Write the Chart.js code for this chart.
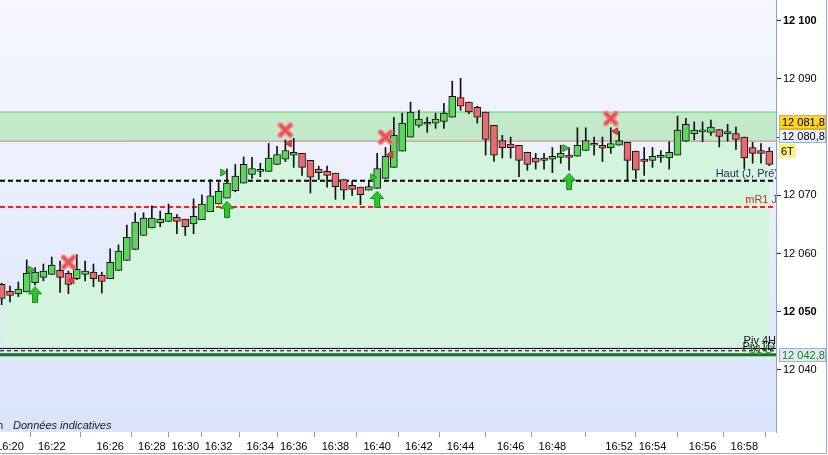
<html lang="fr">

<head>
    <meta charset="UTF-8">
    <title>Bougies 6T</title>
    <script src="https://cdn.jsdelivr.net/npm/chart.js@4.4.1/dist/chart.umd.min.js"></script>
    <style>
        body { margin: 0; background: #fff; }
    </style>
</head>

<body>
    <canvas id="myChart" width="828" height="455"></canvas>
</body>

</html>

<script>
    // Donnees des bougies (6 ticks)
    var opens = [
        12054.7, 12053.5, 12053.1, 12053.4, 12055.0, 12055.9, 12056.4, 12057.1, 12056.6, 12055.7,
        12056.4, 12056.8, 12056.3, 12055.7, 12057.1, 12058.8, 12060.7, 12063.1, 12064.4, 12065.3,
        12065.5, 12066.2, 12065.9, 12065.1, 12065.8, 12067.2, 12068.5, 12069.5, 12070.8, 12072.1,
        12073.6, 12074.1, 12074.1, 12075.3, 12076.2, 12076.9, 12077.2, 12076.0, 12074.5, 12074.1,
        12073.8, 12072.7, 12071.7, 12071.4, 12070.9, 12071.2, 12072.9, 12074.8, 12077.6, 12080.0,
        12082.0, 12082.5, 12082.4, 12082.7, 12083.4, 12086.8, 12086.0, 12085.1, 12084.3, 12082.0,
        12079.4, 12078.8, 12078.6, 12077.4, 12076.4, 12076.0, 12076.2, 12076.5, 12076.9, 12076.7,
        12077.7, 12078.6, 12078.6, 12078.2, 12078.6, 12079.1, 12077.6, 12076.2, 12076.0, 12076.5,
        12076.4, 12076.9, 12079.3, 12080.6, 12080.9, 12080.8, 12081.3, 12080.6, 12080.6, 12080.0,
        12078.2, 12077.7, 12077.6
    ];
    var highs = [
        12054.9, 12054.4, 12055.1, 12058.9, 12057.6, 12058.2, 12059.4, 12058.7, 12057.0, 12059.8,
        12058.7, 12058.2, 12056.8, 12060.8, 12061.5, 12064.9, 12067.0, 12067.0, 12068.2, 12067.3,
        12068.5, 12066.7, 12065.9, 12069.4, 12070.1, 12072.7, 12072.2, 12074.5, 12075.3, 12076.6,
        12076.5, 12075.5, 12078.9, 12078.4, 12079.5, 12079.8, 12077.2, 12076.0, 12075.0, 12075.0,
        12073.8, 12072.7, 12072.4, 12071.4, 12072.4, 12077.2, 12078.2, 12083.4, 12084.1, 12086.0,
        12084.6, 12083.4, 12084.1, 12085.8, 12089.6, 12090.1, 12086.0, 12085.3, 12084.3, 12082.0,
        12080.3, 12080.0, 12078.6, 12077.4, 12077.2, 12077.2, 12078.2, 12078.6, 12078.2, 12081.6,
        12081.6, 12080.0, 12080.0, 12081.6, 12081.0, 12079.1, 12077.6, 12078.2, 12078.2, 12077.7,
        12079.2, 12083.6, 12083.2, 12082.6, 12082.6, 12082.9, 12081.3, 12082.2, 12081.7, 12080.0,
        12079.1, 12078.9, 12078.2
    ];
    var lows = [
        12051.2, 12051.7, 12052.6, 12053.4, 12054.6, 12055.3, 12056.4, 12053.3, 12053.1, 12055.5,
        12055.3, 12054.3, 12053.2, 12055.7, 12057.1, 12058.8, 12060.7, 12063.1, 12064.4, 12064.6,
        12065.5, 12063.4, 12063.1, 12063.4, 12065.8, 12067.2, 12068.5, 12069.5, 12070.6, 12072.1,
        12072.9, 12073.2, 12074.1, 12075.3, 12075.8, 12074.8, 12073.4, 12070.4, 12072.7, 12071.4,
        12069.3, 12069.3, 12070.0, 12068.4, 12070.9, 12071.2, 12072.9, 12074.8, 12077.6, 12080.0,
        12081.7, 12080.8, 12081.5, 12081.5, 12083.4, 12084.6, 12084.0, 12082.4, 12076.9, 12075.8,
        12076.4, 12076.4, 12073.2, 12074.3, 12074.5, 12074.5, 12073.9, 12075.5, 12074.3, 12076.7,
        12077.7, 12076.9, 12075.8, 12077.2, 12078.6, 12072.7, 12072.9, 12073.4, 12074.8, 12075.7,
        12074.5, 12076.9, 12079.2, 12079.5, 12079.2, 12080.3, 12078.3, 12079.3, 12077.9, 12074.6,
        12075.5, 12075.5, 12075.1
    ];
    var closes = [
        12052.3, 12052.8, 12053.9, 12056.6, 12056.8, 12057.0, 12058.0, 12055.9, 12054.7, 12057.3,
        12057.0, 12055.7, 12055.2, 12058.5, 12060.4, 12062.8, 12065.4, 12066.1, 12066.1, 12065.9,
        12066.9, 12065.5, 12064.6, 12066.4, 12068.5, 12069.9, 12070.7, 12072.1, 12073.3, 12075.3,
        12074.6, 12074.1, 12076.4, 12077.0, 12077.7, 12077.4, 12074.8, 12073.1, 12073.9, 12073.4,
        12071.5, 12070.9, 12071.0, 12070.1, 12071.5, 12074.6, 12076.7, 12080.3, 12082.4, 12084.3,
        12083.1, 12082.2, 12083.1, 12084.1, 12087.0, 12085.3, 12084.3, 12083.4, 12079.6, 12076.9,
        12078.2, 12078.2, 12076.0, 12075.3, 12075.7, 12076.4, 12076.7, 12077.2, 12076.5, 12078.6,
        12079.4, 12078.6, 12078.1, 12078.9, 12079.4, 12076.0, 12074.3, 12075.8, 12076.7, 12076.5,
        12077.4, 12081.2, 12082.2, 12081.2, 12080.9, 12081.7, 12080.1, 12080.6, 12079.6, 12076.4,
        12077.2, 12077.2, 12075.3
    ];

    // Axe des temps (indices de bougie -> heure)
    var timeTickIdx = [1, 6, 13, 18, 22, 26, 31, 35, 40, 45, 50, 55, 61, 66, 74, 78, 84, 89];
    var timeTickLbl = ['16:20', '16:22', '16:26', '16:28', '16:30', '16:32', '16:34', '16:36', '16:38',
        '16:40', '16:42', '16:44', '16:46', '16:48', '16:52', '16:54', '16:56', '16:58'];
    var priceTicks = [12040, 12050, 12060, 12070, 12080, 12090, 12100];

    // Niveaux horizontaux
    var zoneHaute = 12084.3;
    var zoneBasse = 12079.3;
    var hautJPrec = 12072.5;
    var mR1J = 12068.0;
    var piv4H = 12043.7;
    var piv1D = 12043.3;
    var s1D = 12042.6;

    // Signaux
    var buyArrows = [{x: 4, y: 12052.9}, {x: 27, y: 12067.6}, {x: 45, y: 12069.3}, {x: 68, y: 12072.4}];
    var sellCrosses = [{x: 8, y: 12058.5}, {x: 34, y: 12081.2}, {x: 46, y: 12080.0}, {x: 73, y: 12083.2}];
    var greenFlags = [{x: 3.48, y: 12057.2}, {x: 26.49, y: 12073.9}, {x: 44.47, y: 12073.1}, {x: 67.5, y: 12078.1}];
    var redFlags = [{x: 8.43, y: 12055.4}, {x: 34.47, y: 12078.9}, {x: 46.62, y: 12077.0}, {x: 73.59, y: 12081.0}];

    // Etiquettes de l'axe des prix
    var tagPrices = [12082.6, 12080.2, 12042.6];
    var tagTexts = ['12 081,8', '12 080,8', '12 042,8'];

    var xMin = -0.2, xMax = 92.8;
    var FONT = "'Liberation Sans', Arial, sans-serif";

    function hline(v) {
        return [{x: xMin, y: v}, {x: xMax, y: v}];
    }

    var wicks = [], bodies = [], bodyColors = [], closeLine = [];
    for (var i = 0; i < opens.length; i++) {
        wicks.push({x: i, y: [lows[i], highs[i]]});
        bodies.push({x: i, y: [opens[i], closes[i]]});
        bodyColors.push(closes[i] >= opens[i] ? '#5ad65a' : '#e96b6b');
        closeLine.push({x: i, y: closes[i]});
    }

    // Fleche verte (achat)
    var arrowImg = document.createElement('canvas');
    arrowImg.width = 14; arrowImg.height = 17;
    (function () {
        var c = arrowImg.getContext('2d');
        c.beginPath();
        c.moveTo(7, 0.5); c.lineTo(13.5, 7.5); c.lineTo(9.5, 7.5); c.lineTo(9.5, 16.5);
        c.lineTo(4.5, 16.5); c.lineTo(4.5, 7.5); c.lineTo(0.5, 7.5); c.closePath();
        c.fillStyle = '#2fc42f'; c.fill();
        c.strokeStyle = '#138a13'; c.lineWidth = 1; c.stroke();
    })();

    // Croix rouge (vente)
    var crossImg = document.createElement('canvas');
    crossImg.width = 18; crossImg.height = 18;
    (function () {
        var c = crossImg.getContext('2d');
        c.strokeStyle = '#f38080'; c.lineWidth = 5.5; c.lineCap = 'round';
        c.beginPath();
        c.moveTo(4, 4); c.lineTo(14, 14);
        c.moveTo(14, 4); c.lineTo(4, 14);
        c.stroke();
        c.strokeStyle = '#e65050'; c.lineWidth = 2.5;
        c.stroke();
    })();

    // Fond degrade + textes et etiquettes
    var decor = {
        id: 'decor',
        beforeDraw: function (chart) {
            var ctx = chart.ctx, a = chart.chartArea;
            ctx.save();
            ctx.fillStyle = '#fff';
            ctx.fillRect(0, 0, chart.width, chart.height);
            var g = ctx.createLinearGradient(0, a.top, 0, a.bottom);
            g.addColorStop(0, '#f7f8fe');
            g.addColorStop(1, '#d9e3fa');
            ctx.fillStyle = g;
            ctx.fillRect(a.left, a.top, a.right - a.left, a.bottom - a.top);
            ctx.restore();
        },
        afterDraw: function (chart) {
            var ctx = chart.ctx, a = chart.chartArea, y = chart.scales.y;
            ctx.save();

            // textes dans la zone du graphique
            ctx.beginPath();
            ctx.rect(a.left, a.top, a.right - a.left, a.bottom - a.top);
            ctx.clip();
            ctx.textBaseline = 'middle';
            ctx.textAlign = 'right';
            ctx.font = '11px ' + FONT;
            ctx.fillStyle = '#1c2b4a';
            ctx.fillText('Haut (J, Pré)', a.right + 2, y.getPixelForValue(hautJPrec) - 7);
            ctx.fillStyle = '#e8201e';
            ctx.fillText('mR1 J', a.right + 1, y.getPixelForValue(mR1J) - 7);
            ctx.fillStyle = '#111';
            ctx.fillText('Piv 4H', a.right, y.getPixelForValue(piv4H) - 7);
            ctx.fillText('Piv 1D', a.right - 1, y.getPixelForValue(piv1D) - 4);
            ctx.fillStyle = '#2a8a2a';
            ctx.fillText('S1 D', a.right - 3, y.getPixelForValue(s1D) - 5);

            ctx.textAlign = 'left';
            ctx.fillStyle = '#1a1a1a';
            ctx.font = '11px ' + FONT;
            ctx.fillText('m', -6, a.bottom - 6);
            ctx.font = 'italic 11px ' + FONT;
            ctx.fillText('Données indicatives', 13, a.bottom - 6);
            ctx.restore();

            // etiquettes sur l'axe des prix
            ctx.save();
            ctx.font = '11px ' + FONT;
            ctx.textBaseline = 'middle';
            ctx.textAlign = 'left';
            var styles = [
                {bg: '#ffd429', line: '#e8b800', fg: '#000'},
                {bg: '#e9eef8', line: '#9db2d0', fg: '#000'},
                {bg: '#e2eaf6', line: '#9db2d0', fg: '#1d7d1d'}
            ];
            for (var k = 0; k < tagPrices.length; k++) {
                var py = Math.round(y.getPixelForValue(tagPrices[k]));
                var s = styles[k];
                ctx.fillStyle = s.bg;
                ctx.fillRect(779, py - 7, 47, 14);
                ctx.strokeStyle = s.line;
                ctx.lineWidth = 1;
                ctx.strokeRect(779.5, py - 6.5, 46, 13);
                ctx.fillStyle = s.fg;
                ctx.fillText(tagTexts[k], 782, py + 0.5);
            }
            // 6T
            var ty = Math.round(y.getPixelForValue(tagPrices[1])) + 15;
            ctx.fillStyle = '#fff27c';
            ctx.fillRect(779, ty - 7, 17, 14);
            ctx.fillStyle = '#000';
            ctx.fillText('6T', 781, ty + 0.5);

            // cadre
            ctx.strokeStyle = '#9aaac4';
            ctx.beginPath();
            ctx.moveTo(0, 453.5); ctx.lineTo(826.5, 453.5); ctx.lineTo(826.5, 0);
            ctx.stroke();
            ctx.restore();
        }
    };

    var ctx = document.getElementById('myChart').getContext('2d');
    var myChart = new Chart(ctx, {
        type: 'bar',
        data: {
            datasets: [
                // aire sous les clotures
                {type: 'line', data: closeLine, borderWidth: 0, pointRadius: 0,
                    backgroundColor: '#d3f4dd', fill: {value: piv4H}, order: 20},
                // zone
                {type: 'line', data: hline(zoneHaute), borderColor: '#62cc62', borderWidth: 1, pointRadius: 0,
                    backgroundColor: '#c2eaca', fill: {value: zoneBasse}, order: 19},
                {type: 'line', data: hline(zoneBasse), borderColor: '#e27a7a', borderWidth: 1, pointRadius: 0, order: 18},
                // niveaux
                {type: 'line', data: hline(hautJPrec), borderColor: '#000', borderWidth: 2, borderDash: [5, 3], pointRadius: 0, order: 17},
                {type: 'line', data: hline(mR1J), borderColor: '#ff1f1f', borderWidth: 2, borderDash: [5, 3], pointRadius: 0, order: 17},
                {type: 'line', data: hline(piv4H), borderColor: '#000', borderWidth: 1, pointRadius: 0, order: 17},
                {type: 'line', data: hline(piv1D), borderColor: '#000', borderWidth: 1, borderDash: [4, 3], pointRadius: 0, order: 17},
                {type: 'line', data: hline(s1D), borderColor: '#0a800a', borderWidth: 3, pointRadius: 0, order: 17},
                // meches + corps
                {data: wicks, backgroundColor: '#111', barThickness: 1, grouped: false, order: 4},
                {data: bodies, backgroundColor: bodyColors, borderColor: '#111', borderWidth: 1,
                    borderSkipped: false, barThickness: 7, minBarLength: 2, grouped: false, order: 3},
                // signaux
                {type: 'scatter', data: greenFlags, pointStyle: 'triangle', rotation: 90, pointRadius: 4,
                    backgroundColor: '#3cc43c', borderColor: '#1f8f1f', borderWidth: 1, order: 2},
                {type: 'scatter', data: redFlags, pointStyle: 'triangle', rotation: -90, pointRadius: 4,
                    backgroundColor: '#e84444', borderColor: '#c02a2a', borderWidth: 1, order: 2},
                {type: 'scatter', data: buyArrows, pointStyle: arrowImg, order: 1},
                {type: 'scatter', data: sellCrosses, pointStyle: crossImg, order: 1}
            ]
        },
        options: {
            responsive: false,
            animation: false,
            layout: {padding: 0, autoPadding: false},
            plugins: {legend: {display: false}, tooltip: {enabled: false}},
            scales: {
                x: {
                    type: 'linear',
                    min: xMin,
                    max: xMax,
                    offset: false,
                    grid: {drawOnChartArea: false, tickLength: 5, color: '#7f9db9'},
                    border: {display: false},
                    ticks: {
                        autoSkip: false,
                        maxRotation: 0,
                        padding: 3,
                        color: '#000',
                        font: {family: FONT, size: 11},
                        callback: function (v) {
                            var k = timeTickIdx.indexOf(v);
                            return k < 0 ? '' : timeTickLbl[k];
                        }
                    },
                    afterBuildTicks: function (scale) {
                        scale.ticks = timeTickIdx.map(function (v) { return {value: v}; });
                    },
                    afterFit: function (scale) {
                        scale.height = 23;
                        scale.paddingLeft = 0;
                        scale.paddingRight = 0;
                    }
                },
                y: {
                    position: 'right',
                    min: 12029.35,
                    max: 12103.54,
                    grid: {drawOnChartArea: false, tickLength: 5, color: '#333'},
                    border: {display: true, color: '#8ea3c2'},
                    ticks: {
                        padding: 2,
                        color: '#000',
                        font: function (c) {
                            var v = c.tick ? c.tick.value : 0;
                            return {family: FONT, size: 11, weight: v % 50 === 0 ? 'bold' : 'normal'};
                        },
                        callback: function (v) {
                            if (v === 12080) return '';
                            return String(v).replace(/\B(?=(\d{3})+(?!\d))/g, ' ');
                        }
                    },
                    afterBuildTicks: function (scale) {
                        scale.ticks = priceTicks.map(function (v) { return {value: v}; });
                    },
                    afterFit: function (scale) {
                        scale.width = 52;
                        scale.paddingTop = 0;
                        scale.paddingBottom = 0;
                    }
                }
            }
        },
        plugins: [decor]
    });
</script>
